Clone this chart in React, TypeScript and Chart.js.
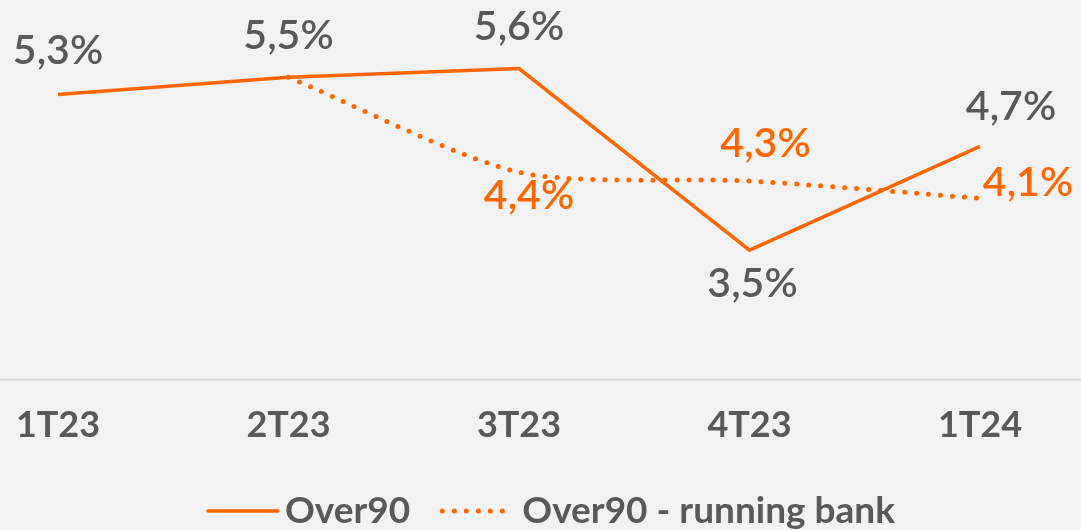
import React, { useEffect, useRef } from "react";
import { Chart, registerables } from "chart.js";

Chart.register(...registerables);

const categories = ["1T23", "2T23", "3T23", "4T23", "1T24"];
const over90 = [5.3, 5.5, 5.6, 3.5, 4.7];
const over90RunningBank = [null, 5.5, 4.4, 4.3, 4.1];
const seriesNames = ["Over90", "Over90 - running bank"];
// which labels to show for each series
const showLabels = [
  [true, true, true, true, true],
  [false, false, true, true, true],
];
// label offsets (styling, px from point to text centre)
const labelOffsets = [
  [[0, -44], [0, -41], [0, -42], [3, 34], [31, -40]],
  [[0, 0], [0, 0], [10, 23], [16, -37], [48, -15]],
];

const ORANGE = "#FF6600";
const GRAY = "#595959";
const BG = "#F2F2F2";
const LABEL_FONT = "600 41px Lato";

const fmt = (v: number) => v.toFixed(1).replace(".", ",") + "%";

const bgPlugin = {
  id: "bg",
  beforeDraw(chart: any) {
    const { ctx, width, height } = chart;
    ctx.save();
    ctx.fillStyle = BG;
    ctx.fillRect(0, 0, width, height);
    ctx.restore();
  },
  beforeDatasetsDraw(chart: any) {
    const { ctx, width } = chart;
    const y = chart.scales.y.getPixelForValue(2);
    ctx.save();
    ctx.strokeStyle = "#D9D9D9";
    ctx.lineWidth = 2;
    ctx.beginPath();
    ctx.moveTo(0, y);
    ctx.lineTo(width, y);
    ctx.stroke();
    ctx.restore();
  },
};

const labelPlugin = {
  id: "valueLabels",
  afterDatasetsDraw(chart: any) {
    const { ctx } = chart;
    ctx.save();
    ctx.font = LABEL_FONT;
    ctx.textAlign = "center";
    ctx.textBaseline = "middle";
    chart.data.datasets.forEach((ds: any, di: number) => {
      const meta = chart.getDatasetMeta(di);
      ctx.fillStyle = di === 0 ? GRAY : ORANGE;
      meta.data.forEach((pt: any, i: number) => {
        const v = ds.data[i];
        if (v == null || !showLabels[di][i]) return;
        const [dx, dy] = labelOffsets[di][i];
        ctx.fillText(fmt(v), pt.x + dx, pt.y + dy);
      });
    });
    ctx.restore();
  },
};

const legendPlugin = {
  id: "customLegend",
  afterDraw(chart: any) {
    const { ctx } = chart;
    ctx.save();
    ctx.font = "bold 37px Lato";
    ctx.textBaseline = "middle";
    ctx.textAlign = "left";
    const y = 511;
    let x = 208;
    const dashes = [[], [0, 12]];
    const widths = [3.5, 5];
    seriesNames.forEach((name, i) => {
      ctx.strokeStyle = ORANGE;
      ctx.lineWidth = widths[i];
      ctx.lineCap = "round";
      ctx.setLineDash(dashes[i]);
      ctx.beginPath();
      ctx.moveTo(x, y);
      ctx.lineTo(x + 70, y);
      ctx.stroke();
      ctx.setLineDash([]);
      x += 70 + (i === 0 ? 7 : 10);
      ctx.fillStyle = GRAY;
      ctx.fillText(name, x, y);
      x += ctx.measureText(name).width + 32;
    });
    ctx.restore();
  },
};

export default function App() {
  const ref = useRef<HTMLCanvasElement>(null);
  useEffect(() => {
    let chart: any = null;
    let cancelled = false;
    const make = () => {
      if (cancelled || !ref.current) return;
      chart = new Chart(ref.current, {
        type: "line",
        data: {
          labels: categories,
          datasets: [
            {
              label: seriesNames[0],
              data: over90,
              borderColor: ORANGE,
              backgroundColor: ORANGE,
              borderWidth: 3.5,
              pointRadius: 0,
              tension: 0,
            },
            {
              label: seriesNames[1],
              data: over90RunningBank,
              borderColor: ORANGE,
              backgroundColor: ORANGE,
              borderWidth: 5,
              borderDash: [0, 12],
              borderCapStyle: "round",
              pointRadius: 0,
              tension: 0.25,
              spanGaps: false,
            },
          ],
        },
        options: {
          responsive: false,
          animation: false,
          layout: { padding: { left: 58, right: 101, top: 34, bottom: 59 } },
          plugins: { legend: { display: false }, tooltip: { enabled: false } },
          scales: {
            x: {
              grid: { display: false, drawTicks: false },
              border: { display: false },
              ticks: {
                color: GRAY,
                font: { family: "Lato", size: 36, weight: "bold" },
                padding: 24,
                maxRotation: 0,
              },
              afterFit: (scale: any) => {
                scale.paddingLeft = 0;
                scale.paddingRight = 0;
              },
            },
            y: { display: false, min: 2, max: 6 },
          },
        },
        plugins: [bgPlugin, labelPlugin, legendPlugin],
      } as any);
    };
    const fontsReady = (document as any).fonts
      ? Promise.all([
          (document as any).fonts.load("bold 37px Lato"),
          (document as any).fonts.load(LABEL_FONT),
        ]).catch(() => null)
      : Promise.resolve(null);
    fontsReady.then(make);
    return () => {
      cancelled = true;
      if (chart) chart.destroy();
    };
  }, []);
  return (
    <div style={{ position: "fixed", left: 0, top: 0, width: 1081, height: 530, background: BG }}>
      <canvas ref={ref} width={1081} height={530} />
    </div>
  );
}
